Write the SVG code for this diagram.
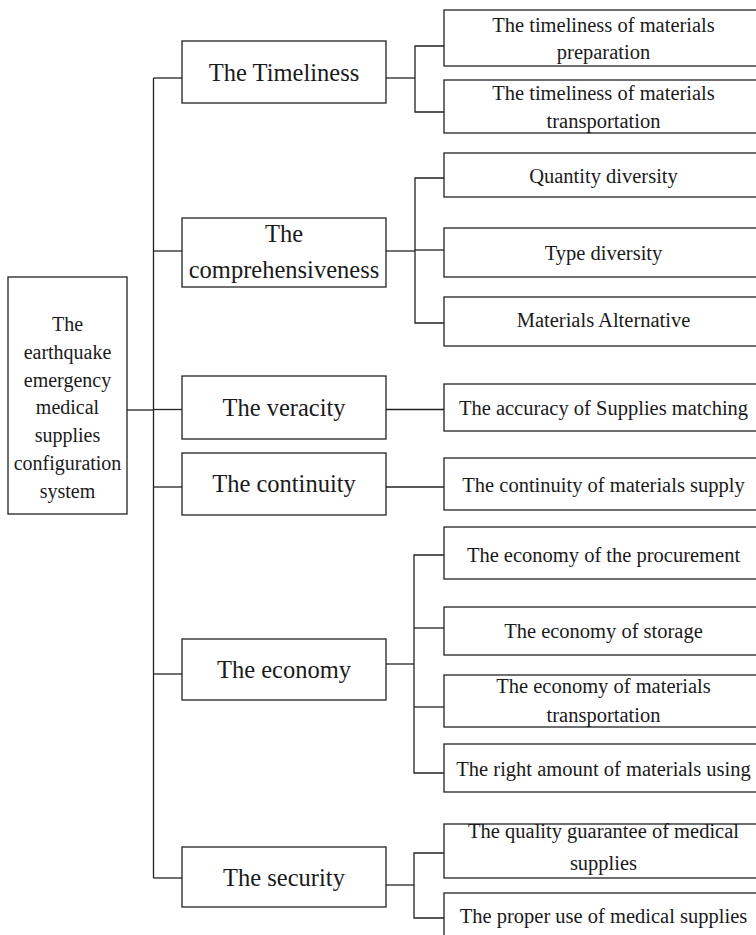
<svg xmlns="http://www.w3.org/2000/svg" width="756" height="935" viewBox="0 0 756 935">
  <style>
    .box { fill: #fff; stroke: #222; stroke-width: 1.3; }
    .wire { fill: none; stroke: #222; stroke-width: 1.3; }
    text { font-family: "Liberation Serif", "Times New Roman", serif; fill: #1a1a1a; text-anchor: middle; }
    .root { font-size: 20px; }
    .mid { font-size: 24.5px; }
    .leaf { font-size: 20.5px; }
  </style>
  <rect width="756" height="935" fill="#fff"/>

  <!-- connectors -->
  <g id="connectors" class="wire">
    <!-- root to trunk -->
    <line x1="127" y1="410" x2="153.5" y2="410"/>
    <!-- trunk -->
    <line x1="153.5" y1="78" x2="153.5" y2="878"/>
    <!-- trunk to criteria -->
    <line x1="153.5" y1="78" x2="182" y2="78"/>
    <line x1="153.5" y1="251" x2="182" y2="251"/>
    <line x1="153.5" y1="409.5" x2="182" y2="409.5"/>
    <line x1="153.5" y1="487" x2="182" y2="487"/>
    <line x1="153.5" y1="674" x2="182" y2="674"/>
    <line x1="153.5" y1="878" x2="182" y2="878"/>

    <!-- timeliness branch -->
    <line x1="386" y1="78" x2="415" y2="78"/>
    <polyline points="444,46 415,46 415,112 444,112"/>

    <!-- comprehensiveness branch -->
    <line x1="386" y1="251" x2="415" y2="251"/>
    <polyline points="444,178 415,178 415,323 444,323"/>
    <line x1="415" y1="250" x2="444" y2="250"/>

    <!-- veracity / continuity -->
    <line x1="386" y1="409.5" x2="444" y2="409.5"/>
    <line x1="386" y1="487" x2="444" y2="487"/>

    <!-- economy branch -->
    <line x1="386" y1="664" x2="414" y2="664"/>
    <polyline points="444,555 414,555 414,773 444,773"/>
    <line x1="414" y1="628" x2="444" y2="628"/>
    <line x1="414" y1="707" x2="444" y2="707"/>

    <!-- security branch -->
    <line x1="386" y1="885" x2="414" y2="885"/>
    <polyline points="444,853 414,853 414,918 444,918"/>
  </g>

  <!-- root -->
  <g id="root">
    <rect class="box" x="8" y="277" width="119" height="237"/>
    <text class="root" x="67.5" y="331">The</text>
    <text class="root" x="67.5" y="358.8">earthquake</text>
    <text class="root" x="67.5" y="386.6">emergency</text>
    <text class="root" x="67.5" y="414.4">medical</text>
    <text class="root" x="67.5" y="442.2">supplies</text>
    <text class="root" x="67.5" y="470">configuration</text>
    <text class="root" x="67.5" y="497.8">system</text>
  </g>

  <!-- criteria -->
  <g id="timeliness">
    <rect class="box" x="182" y="41" width="204" height="62"/>
    <text class="mid" x="284" y="81">The Timeliness</text>
  </g>
  <g id="comprehensiveness">
    <rect class="box" x="182" y="218" width="204" height="69"/>
    <text class="mid" x="284" y="242">The</text>
    <text class="mid" x="284" y="278">comprehensiveness</text>
  </g>
  <g id="veracity">
    <rect class="box" x="182" y="376" width="204" height="63"/>
    <text class="mid" x="284" y="415.7">The veracity</text>
  </g>
  <g id="continuity">
    <rect class="box" x="182" y="453" width="204" height="62"/>
    <text class="mid" x="284" y="491.7">The continuity</text>
  </g>
  <g id="economy">
    <rect class="box" x="182" y="639" width="204" height="61"/>
    <text class="mid" x="284" y="678">The economy</text>
  </g>
  <g id="security">
    <rect class="box" x="182" y="847" width="204" height="60"/>
    <text class="mid" x="284" y="885.5">The security</text>
  </g>

  <!-- indicators -->
  <g id="materials-preparation">
    <rect class="box" x="444" y="10" width="320" height="56"/>
    <text class="leaf" x="603.5" y="31.7">The timeliness of materials</text>
    <text class="leaf" x="603.5" y="59.3">preparation</text>
  </g>
  <g id="materials-transportation">
    <rect class="box" x="444" y="80" width="320" height="53"/>
    <text class="leaf" x="603.5" y="100">The timeliness of materials</text>
    <text class="leaf" x="603.5" y="128.3">transportation</text>
  </g>
  <g id="quantity-diversity">
    <rect class="box" x="444" y="153" width="320" height="44"/>
    <text class="leaf" x="603.5" y="183.3">Quantity diversity</text>
  </g>
  <g id="type-diversity">
    <rect class="box" x="444" y="228" width="320" height="49"/>
    <text class="leaf" x="603.5" y="260">Type diversity</text>
  </g>
  <g id="materials-alternative">
    <rect class="box" x="444" y="297" width="320" height="49"/>
    <text class="leaf" x="603.5" y="326.7">Materials Alternative</text>
  </g>
  <g id="supplies-matching">
    <rect class="box" x="444" y="384" width="320" height="47"/>
    <text class="leaf" x="603.5" y="414.7">The accuracy of Supplies matching</text>
  </g>
  <g id="materials-supply">
    <rect class="box" x="444" y="458" width="320" height="52"/>
    <text class="leaf" x="603.5" y="491.5">The continuity of materials supply</text>
  </g>
  <g id="procurement">
    <rect class="box" x="444" y="527" width="320" height="52"/>
    <text class="leaf" x="603.5" y="561.7">The economy of the procurement</text>
  </g>
  <g id="storage">
    <rect class="box" x="444" y="607" width="320" height="48"/>
    <text class="leaf" x="603.5" y="638.3">The economy of storage</text>
  </g>
  <g id="transportation-economy">
    <rect class="box" x="444" y="675" width="320" height="52"/>
    <text class="leaf" x="603.5" y="693.3">The economy of materials</text>
    <text class="leaf" x="603.5" y="721.7">transportation</text>
  </g>
  <g id="materials-using">
    <rect class="box" x="444" y="744" width="320" height="48"/>
    <text class="leaf" x="603.5" y="776">The right amount of materials using</text>
  </g>
  <g id="quality-guarantee">
    <rect class="box" x="444" y="824" width="320" height="54"/>
    <text class="leaf" x="603.5" y="838.3">The quality guarantee of medical</text>
    <text class="leaf" x="603.5" y="870">supplies</text>
  </g>
  <g id="proper-use">
    <rect class="box" x="444" y="893" width="320" height="60"/>
    <text class="leaf" x="603.5" y="923">The proper use of medical supplies</text>
  </g>
</svg>
